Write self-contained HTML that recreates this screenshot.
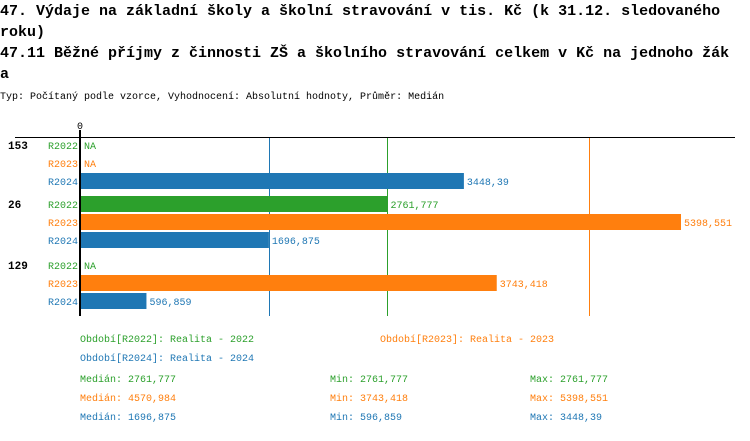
<!DOCTYPE html>
<html><head><meta charset="utf-8">
<style>
body{margin:0;background:#fff;width:750px;height:436px;overflow:hidden;font-family:"Liberation Mono",monospace}
svg text{font-family:"Liberation Mono",monospace}
</style></head>
<body>
<svg id="chart" width="750" height="436" xmlns="http://www.w3.org/2000/svg">
<g font-size="15" font-weight="bold" fill="#000">
<text x="0" y="15">47. Výdaje na základní školy a školní stravování v tis. Kč (k 31.12. sledovaného</text>
<text x="0" y="36">roku)</text>
<text x="0" y="57">47.11 Běžné příjmy z činnosti ZŠ a školního stravování celkem v Kč na jednoho žák</text>
<text x="0" y="78">a</text>
</g>
<text x="0" y="99" font-size="10">Typ: Počítaný podle vzorce, Vyhodnocení: Absolutní hodnoty, Průměr: Medián</text>
<g id="plot"></g>
<g id="legend" font-size="10"></g>
</svg>
<script>
const groups = ["153","26","129"];
const series = ["R2022","R2023","R2024"];
const colors = ["#2ca02c","#ff7f0e","#1f77b4"];
const values = [[null,null,3448.39],[2761.777,5398.551,1696.875],[null,3743.418,596.859]];
const medians = [2761.777,4570.984,1696.875];
const mins = [2761.777,3743.418,596.859];
const maxs = [2761.777,5398.551,3448.39];
const periodLabels = ["Období[R2022]: Realita - 2022","Období[R2023]: Realita - 2023","Období[R2024]: Realita - 2024"];

const NS="http://www.w3.org/2000/svg";
const x0=80, xMax=5398.551, wMax=601;
const xs=v=>x0+v/xMax*wMax;
const fmt=v=>String(v).replace('.',',');
const plot=document.getElementById('plot');
function mk(tag,attrs,parent){const e=document.createElementNS(NS,tag);for(const k in attrs)e.setAttribute(k,attrs[k]);parent.appendChild(e);return e;}

let t=mk('text',{x:x0,y:129,'font-size':10,'text-anchor':'middle'},plot);t.textContent='0';


let l=mk('line',{x1:15,x2:735,y1:137.5,y2:137.5,stroke:'#000','stroke-width':1},plot);


medians.forEach((m,i)=>{
  const xm=Math.round(xs(m));
  const e=mk('rect',{x:xm,y:138,width:1,height:178},plot);
  e.style.fill=colors[i];
  
  
});
const groupTop=[145,204,265];
groups.forEach((g,gi)=>{
  const gt=mk('text',{x:8,y:groupTop[gi]+4,'font-size':11,'font-weight':'bold'},plot);gt.textContent=g;
  
  
  series.forEach((s,si)=>{
    const cy=groupTop[gi]+si*18;
    const st=mk('text',{x:78,y:cy+4,'font-size':10,'text-anchor':'end',fill:colors[si]},plot);st.textContent=s;
    
    
    const v=values[gi][si];
    if(v==null){
      const na=mk('text',{x:84,y:cy+4,'font-size':10,fill:colors[si]},plot);na.textContent='NA';
      
      
    } else {
      const r=mk('rect',{x:x0,y:cy-8,width:xs(v)-x0,height:16,fill:colors[si]},plot);
      
      
      const vt=mk('text',{x:xs(v)+3,y:cy+4,'font-size':10,fill:colors[si]},plot);vt.textContent=fmt(v);
      
      
    }
  });
});
let ax=mk('line',{x1:x0,x2:x0,y1:130,y2:316,stroke:'#000','stroke-width':2},plot);



const lg=document.getElementById('legend');
const lp=[[80,342],[380,342],[80,361]];
periodLabels.forEach((p,i)=>{
  const e=mk('text',{x:lp[i][0],y:lp[i][1],fill:colors[i]},lg);e.textContent=p;
  
  
});
series.forEach((s,i)=>{
  const y=382+i*19;
  const a=mk('text',{x:80,y:y,fill:colors[i]},lg);a.textContent='Medián: '+fmt(medians[i]);
  
  
  const b=mk('text',{x:330,y:y,fill:colors[i]},lg);b.textContent='Min: '+fmt(mins[i]);
  
  
  const c=mk('text',{x:530,y:y,fill:colors[i]},lg);c.textContent='Max: '+fmt(maxs[i]);
  
  
});
</script>
</body></html>
